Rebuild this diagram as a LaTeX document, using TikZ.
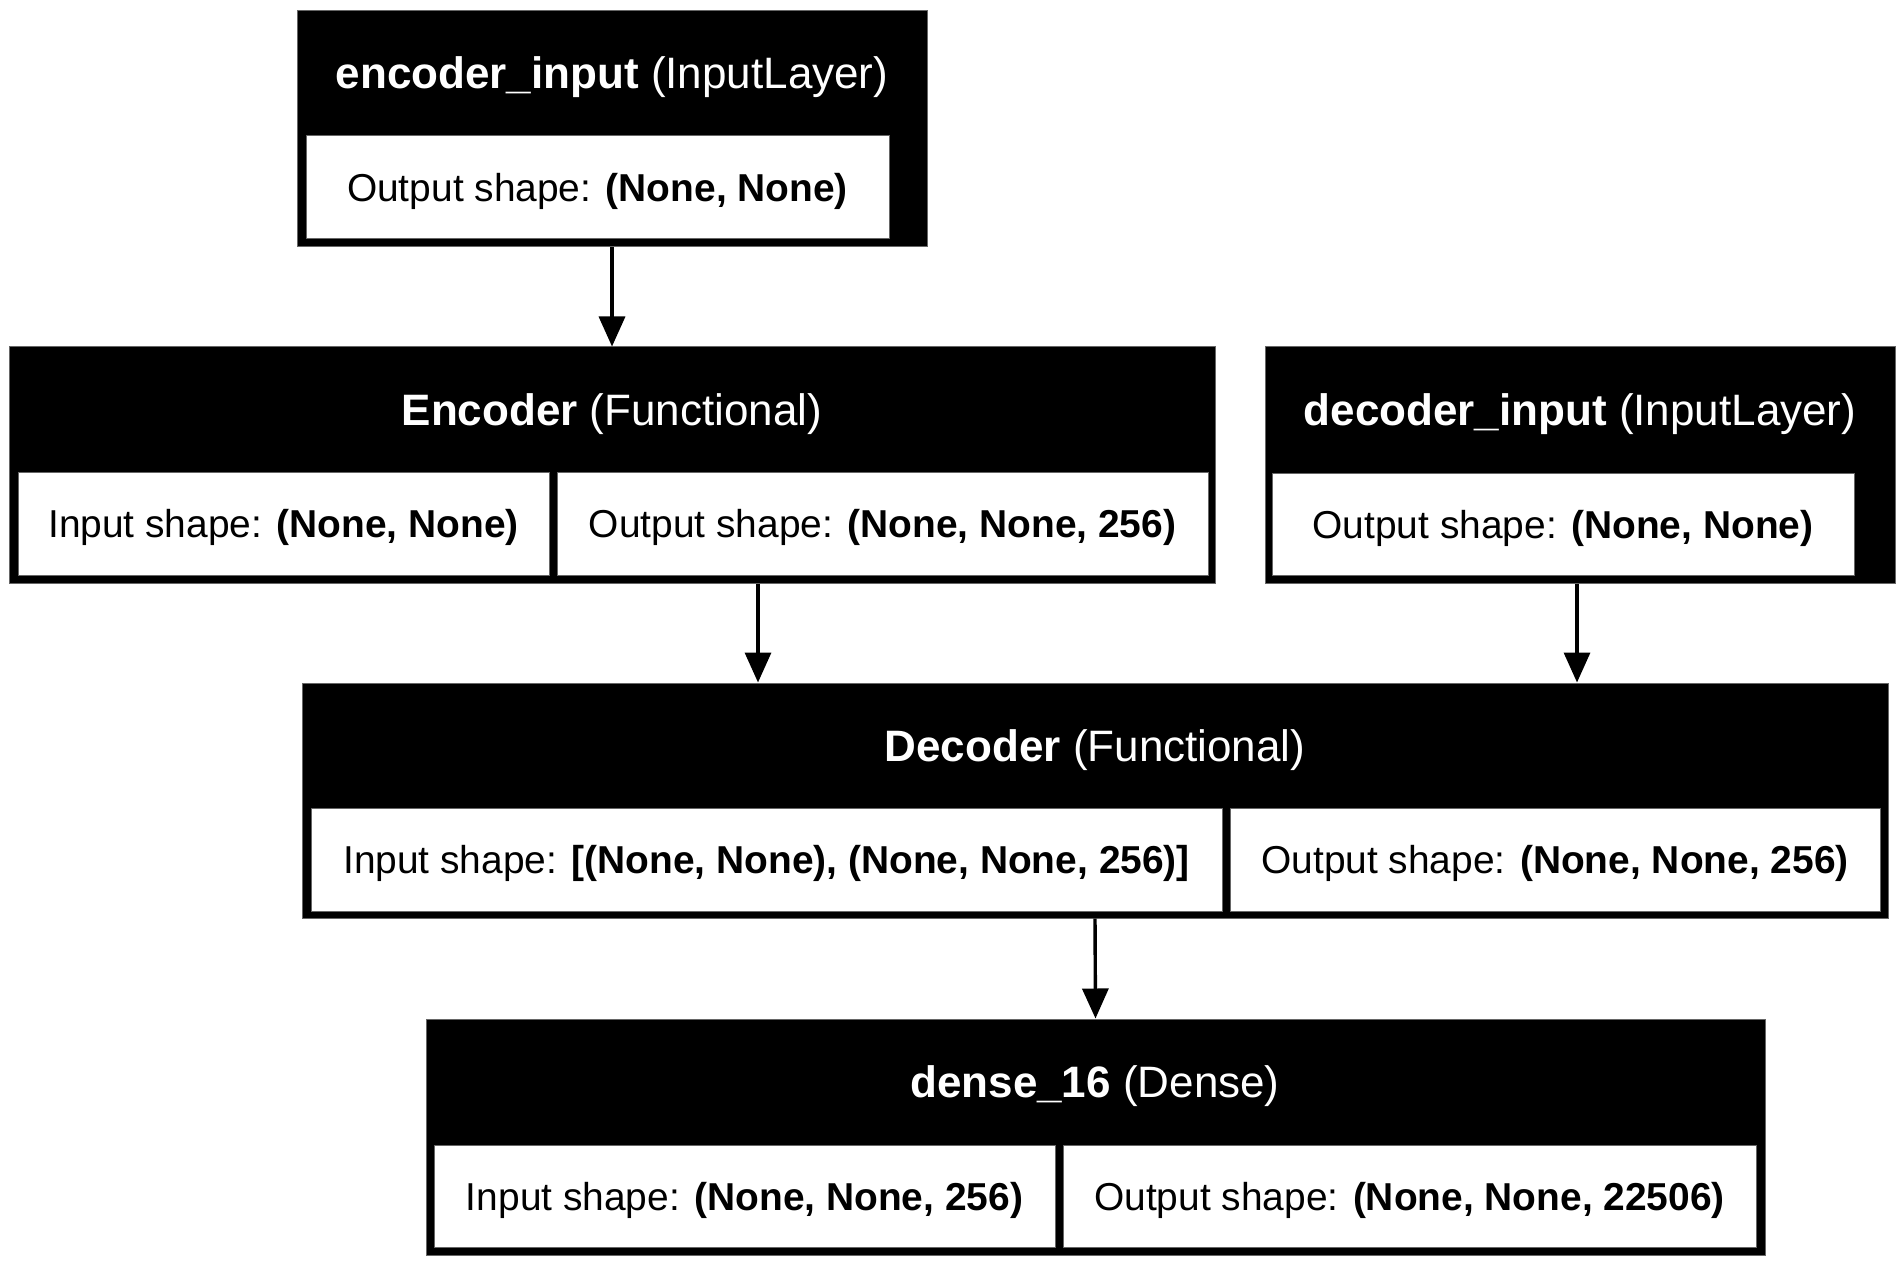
\documentclass[tikz,border=0pt]{standalone}
\usepackage{fontspec}
\setmainfont{Liberation Sans}
\usetikzlibrary{arrows.meta,fit}
\begin{document}
\begin{tikzpicture}[x=0.5pt,y=-0.5pt,
  outerbox/.style={draw=black!60, fill=black, line width=0.5pt, inner sep=0pt},
  cellbox/.style={draw=black!60, fill=white, line width=0.5pt, inner sep=0pt},
  txt/.style={inner sep=0pt, anchor=base, font=\fontsize{19.45}{23.3}\selectfont},
  titletxt/.style={inner sep=0pt, anchor=base, text=white, font=\fontsize{22}{26}\selectfont},
  celltxt/.style={txt, text=black},
  arr/.style={line width=1.7pt, -{Triangle[length=15pt,width=13pt]}}
]
\path[fill=white] (0,0) rectangle (1904,1267);
\useasboundingbox (0,0) rectangle (1904,1267);

% encoder_input
\node[outerbox, fit={(297,11)(927,247)}] (ei) {};
\node[cellbox, fit={(306,136)(889,239)}] (eic) {};
\node[titletxt] (eit) at (612,89) {\textbf{encoder\_input} (InputLayer)};
\node[celltxt] (eix) at ([yshift=-7pt]eic.center) {Output shape: \textbf{(None, None)}};

% Encoder
\node[outerbox, fit={(9,347)(1215,583)}] (enc) {};
\node[cellbox, fit={(18,472)(549,575)}] (encc1) {};
\node[cellbox, fit={(557,472)(1208,575)}] (encc2) {};
\node[titletxt] (enct) at (612,425) {\textbf{Encoder} (Functional)};
\node[celltxt] (encx1) at ([yshift=-7pt]encc1.center) {Input shape: \textbf{(None, None)}};
\node[celltxt] (encx2) at ([yshift=-7pt]encc2.center) {Output shape: \textbf{(None, None, 256)}};

% decoder_input
\node[outerbox, fit={(1265,347)(1895,583)}] (di) {};
\node[cellbox, fit={(1272,473)(1854,575)}] (dic) {};
\node[titletxt] (dit) at (1580,425) {\textbf{decoder\_input} (InputLayer)};
\node[celltxt] (dix) at ([yshift=-7pt]dic.center) {Output shape: \textbf{(None, None)}};

% Decoder
\node[outerbox, fit={(302,683)(1888,918)}] (dec) {};
\node[cellbox, fit={(311,808)(1222,911)}] (decc1) {};
\node[cellbox, fit={(1230,808)(1880,911)}] (decc2) {};
\node[titletxt] (dect) at (1095,761) {\textbf{Decoder} (Functional)};
\node[celltxt] (decx1) at ([yshift=-7pt]decc1.center) {Input shape: \textbf{[(None, None), (None, None, 256)]}};
\node[celltxt] (decx2) at ([yshift=-7pt]decc2.center) {Output shape: \textbf{(None, None, 256)}};

% dense_16
\node[outerbox, fit={(426,1019)(1765,1255)}] (dense) {};
\node[cellbox, fit={(434,1145)(1055,1247)}] (densec1) {};
\node[cellbox, fit={(1063,1145)(1756,1247)}] (densec2) {};
\node[titletxt] (denset) at (1095,1097.5) {\textbf{dense\_16} (Dense)};
\node[celltxt] (densex1) at ([yshift=-7pt]densec1.center) {Input shape: \textbf{(None, None, 256)}};
\node[celltxt] (densex2) at ([yshift=-7pt]densec2.center) {Output shape: \textbf{(None, None, 22506)}};

% connectors
\draw[arr] (ei.south) -- (enc.north);
\draw[arr] ([xshift=73pt]enc.south) -- ([xshift=-168.5pt]dec.north);
\draw[arr] ([xshift=-1.5pt]di.south) -- ([xshift=241pt]dec.north);
\draw[arr] (dec.south) -- (dense.north);
\end{tikzpicture}
\end{document}
